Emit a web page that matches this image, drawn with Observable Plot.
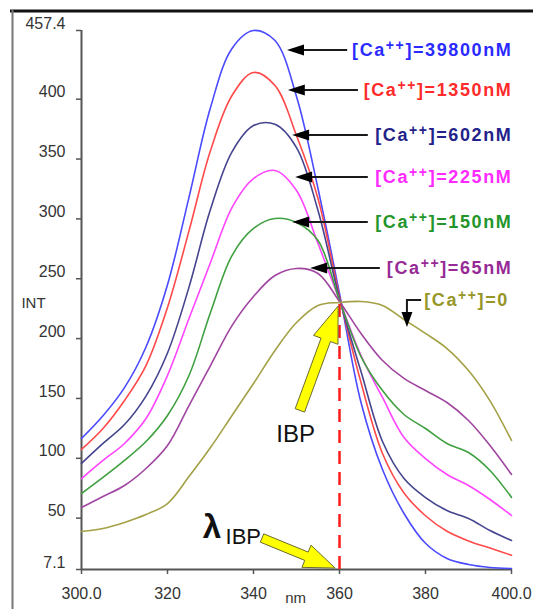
<!DOCTYPE html>
<html><head><meta charset="utf-8">
<script src="https://cdn.jsdelivr.net/npm/d3@7"></script>
<script src="https://cdn.jsdelivr.net/npm/@observablehq/plot@0.6"></script>
<style>
body{margin:0;background:#fff;}
</style>
</head><body>
<script>
// ---- data ----
const wavelengths = [300,305,310,315,320,325,330,335,340,345,350,355,360,365,370,375,380,385,390,395,400];
const ca39800 = [116.5,135.5,159,193,245,318,393.1,442.4,457.4,449.0,402.3,325.4,237.7,146.6,90.6,53.9,29,16.3,11.3,8.8,7.9];
const ca1350  = [107.4,124.9,148.3,177.5,226,290,357.1,403.1,422.3,411.4,369.7,317.0,235.2,163.3,104.0,71,52,39,31,25,19];
const ca602   = [95.7,112.4,128.2,152,188,243,308,356,378,379,359.6,307.0,233.5,172.5,114.0,83.1,67.2,56.4,49.7,39.7,31.3];
const ca225   = [83.1,98.2,112.4,133.2,169.2,216.8,263.6,309.5,333.7,340.4,323.7,279.4,232,185.9,150.8,117.4,99.8,86.5,77.3,65.6,52.2];
const ca150   = [70.6,84.0,98.2,114.0,135.8,169.2,221.8,269.4,292.0,300.3,297.0,281.9,232,185.0,156.6,136.6,124.9,112.4,104.8,89.8,67.3];
const ca65    = [58.9,68.1,77.3,91.5,110.7,144.1,177.5,210.9,235.2,252.7,258.6,254.4,231,204.3,181.7,166.7,156.6,146.6,131.6,110.7,86.5];
const ca0     = [38.8,41.4,46.4,53.0,62.2,84.8,109.0,135.8,162.5,190.1,213.4,227.7,230.2,231.0,227.7,215.9,204.3,191.7,173.3,148.0,114.9];

const seriesNames = ["[Ca++]=39800nM","[Ca++]=1350nM","[Ca++]=602nM","[Ca++]=225nM","[Ca++]=150nM","[Ca++]=65nM","[Ca++]=0"];
const seriesValues = [ca39800, ca1350, ca602, ca225, ca150, ca65, ca0];
const lineColors  = ["#4a4aff","#ff4a4a","#45458f","#ff45ff","#40a040","#a045a0","#a3a045"];
const labelColors = ["#2a2aff","#ff2a2a","#22228a","#ff2aff","#22962a","#962a96","#969628"];

// label callouts (data coordinates)
const labelY      = [440.7, 407.3, 369.7, 334.6, 297.0, 258.6, 231.8];
const labelRightX = [400.2, 400.2, 400.2, 400.2, 400.2, 400.2, 399.4];
const arrowTipX   = [347.9, 348.1, 349.1, 349.8, 349.1, 353.3];
const arrowTailX  = [361.9, 364.4, 366.7, 366.7, 366.7, 369.5];
const elbowX      = [379.1, 375.8];
const elbowY      = [231.8, 209.3];

const yTicks = [7.1,50,100,150,200,250,300,350,400,457.4];
const yTickLabels = ["7.1","50","100","150","200","250","300","350","400","457.4"];
const xTicks = [300,320,340,360,380,400];
const xTickLabels = ["300.0","320","340","360","380","400.0"];

const isosbesticX = 360, isosbesticY = 230;
const ibpArrow = {tail:[350.9,139.6], tip:[359.8,226.8]};
const lambdaArrow = {tail:[342.1,33.0], tip:[359.1,7.9]};
const ibpText = {text:"IBP", x:349.8, y:114};
const lambdaText = {text:"λ", x:328.2, y:33.0};
const lambdaSub = {text:"IBP", x:333.5, y:28.8};
const axisTitles = [{text:"INT", y:229.3}, {text:"nm", x:349.8}];

// ---- build tables ----
const rows = [];
seriesNames.forEach((s, i) => wavelengths.forEach((w, j) => rows.push({series: s, nm: w, int: seriesValues[i][j]})));
const labels = seriesNames.map((s, i) => ({label: s, x: labelRightX[i], y: labelY[i], color: labelColors[i]}));

function fatArrow(x0, y0, x1, y1, sw, hw, hl) {
  const dx = x1 - x0, dy = y1 - y0, L = Math.hypot(dx, dy), ux = dx / L, uy = dy / L, px = -uy, py = ux;
  const bx = x1 - ux * hl, by = y1 - uy * hl;
  return [[x0 + px * sw, y0 + py * sw], [bx + px * sw, by + py * sw], [bx + px * hw, by + py * hw], [x1, y1],
          [bx - px * hw, by - py * hw], [bx - px * sw, by - py * sw], [x0 - px * sw, y0 - py * sw]];
}

function callouts(index, scales) {
  const {x, y} = scales;
  const g = d3.create("svg:g");
  for (let i = 0; i < arrowTipX.length; i++) {
    const tx = x(arrowTipX[i]), ty = y(labelY[i]), ex = x(arrowTailX[i]);
    g.append("line").attr("x1", ex).attr("y1", ty).attr("x2", tx + 12).attr("y2", ty)
      .attr("stroke", "#1a1a1a").attr("stroke-width", 2);
    g.append("path").attr("d", `M${tx},${ty}L${tx + 17},${ty - 5.5}L${tx + 17},${ty + 5.5}Z`).attr("fill", "#000");
  }
  const ex0 = x(elbowX[0]), ex1 = x(elbowX[1]), ey0 = y(elbowY[0]), ey1 = y(elbowY[1]);
  g.append("path").attr("d", `M${ex0},${ey0}H${ex1}V${ey1 - 12}`).attr("fill", "none").attr("stroke", "#1a1a1a").attr("stroke-width", 2);
  g.append("path").attr("d", `M${ex1},${ey1}L${ex1 - 5.5},${ey1 - 15}L${ex1 + 5.5},${ey1 - 15}Z`).attr("fill", "#000");
  return g.node();
}

function yellowArrows(index, scales) {
  const {x, y} = scales;
  const g = d3.create("svg:g");
  const a1 = fatArrow(x(ibpArrow.tail[0]), y(ibpArrow.tail[1]), x(ibpArrow.tip[0]), y(ibpArrow.tip[1]), 5, 13, 36);
  const a2 = fatArrow(x(lambdaArrow.tail[0]), y(lambdaArrow.tail[1]), x(lambdaArrow.tip[0]), y(lambdaArrow.tip[1]), 4.5, 12, 31);
  for (const a of [a1, a2]) {
    g.append("polygon").attr("points", a.map(p => p.join(",")).join(" "))
      .attr("fill", "#ffff00").attr("stroke", "#6b6b30").attr("stroke-width", 1).attr("stroke-linejoin", "round");
  }
  return g.node();
}

const plot = Plot.plot({
  width: 533, height: 609,
  marginLeft: 81, marginRight: 22, marginTop: 30, marginBottom: 40,
  x: {domain: [300, 400], label: null},
  y: {domain: [7.1, 457.4], label: null},
  color: {domain: seriesNames, range: lineColors},
  style: {background: "#fff", fontFamily: "'Liberation Sans', Arial, sans-serif", fontSize: "16px", color: "#333", overflow: "visible"},
  marks: [
    Plot.axisY(yTicks, {tickSize: 5, fill: null, stroke: "#555", strokeWidth: 1.5, label: null}),
    Plot.axisY(yTicks, {tickSize: 0, tickPadding: 16, dy: -7, fill: "#333", fontSize: 16,
      tickFormat: d => yTickLabels[yTicks.indexOf(d)], label: null}),
    Plot.axisX(xTicks, {tickSize: 5, tickPadding: 13, stroke: "#555", strokeWidth: 1.5, fill: "#333", fontSize: 16,
      tickFormat: d => xTickLabels[xTicks.indexOf(d)], label: null}),
    Plot.ruleX([300], {stroke: "#555", strokeWidth: 2}),
    Plot.ruleY([7.1], {stroke: "#555", strokeWidth: 2}),
    Plot.line(rows, {x: "nm", y: "int", z: "series", stroke: "series", strokeWidth: 1.6, curve: "catmull-rom"}),
    Plot.ruleX([isosbesticX], {y1: 7.1, y2: isosbesticY, stroke: "#ff1a1a", strokeWidth: 2.5, strokeDasharray: "13,8"}),
    yellowArrows,
    callouts,
    Plot.text(labels, {x: "x", y: "y", text: "label", fill: "color", textAnchor: "end", lineAnchor: "middle",
      fontSize: 18, fontWeight: "bold"}),
    Plot.text([ibpText], {x: "x", y: "y", text: "text", fontSize: 24, fill: "#111", lineAnchor: "bottom"}),
    Plot.text([lambdaText], {x: "x", y: "y", text: "text", fontSize: 33, fontWeight: "bold", fill: "#111", textAnchor: "start", lineAnchor: "bottom"}),
    Plot.text([lambdaSub], {x: "x", y: "y", text: "text", fontSize: 22, fill: "#111", textAnchor: "start", lineAnchor: "bottom"}),
    Plot.text([axisTitles[0]], {y: "y", text: "text", frameAnchor: "left", dx: -48, textAnchor: "middle", fontSize: 15, fill: "#333"}),
    Plot.text([axisTitles[1]], {x: "x", text: "text", frameAnchor: "bottom", dy: 29, lineAnchor: "middle", fontSize: 15, fill: "#333"})
  ]
});

// superscript "++" and wide letter spacing for the concentration labels
d3.select(plot).selectAll("text").filter(function () { return this.textContent.startsWith("[Ca++]"); }).each(function () {
  const t = this.textContent;
  const k = t.indexOf("++");
  const sel = d3.select(this);
  sel.attr("letter-spacing", "1.6px");
  sel.text(null);
  sel.append("tspan").text(t.slice(0, k));
  sel.append("tspan").attr("dy", -6).attr("font-size", 14).text("++");
  sel.append("tspan").attr("dy", 6).text(t.slice(k + 2));
});

// outer frame of the picture
const svg = d3.select(plot);
svg.append("line").attr("x1", 10).attr("x2", 533).attr("y1", 11).attr("y2", 11).attr("stroke", "#111").attr("stroke-width", 3);
svg.append("line").attr("x1", 12.5).attr("x2", 12.5).attr("y1", 10).attr("y2", 609).attr("stroke", "#777").attr("stroke-width", 2);

document.body.appendChild(plot);
</script>
</body></html>
